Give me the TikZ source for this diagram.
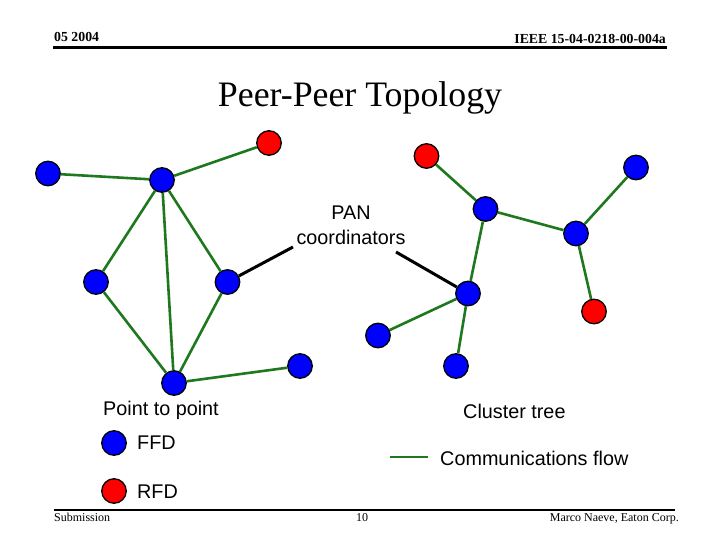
\documentclass[tikz,border=0pt]{standalone}
\usepackage{fontspec}
\setmainfont{Liberation Serif}
\newfontfamily\arialf{Liberation Sans}
\definecolor{edgegreen}{RGB}{30,120,30}
\begin{document}
\begin{tikzpicture}[x=1pt,y=-1pt,
  dev/.style={circle,draw=black,line width=1.3pt,minimum size=24.5pt,inner sep=0pt},
  ffd/.style={dev,fill={rgb,255:red,0;green,0;blue,255}},
  rfd/.style={dev,fill={rgb,255:red,255;green,0;blue,0}},
  flow/.style={draw=edgegreen,line width=2.6pt},
  pointer/.style={draw=black,line width=3pt},
  lbl/.style={font=\arialf\fontsize{19.8}{22}\selectfont,inner sep=0pt},
  hdr/.style={font=\bfseries\fontsize{13.8}{15}\selectfont,inner sep=0pt},
  ftr/.style={font=\fontsize{12}{14}\selectfont,inner sep=0pt}]
\useasboundingbox (0,0) rectangle (720,540);
% header / footer
\node[hdr,anchor=base west] (hl) at (54,42) {05 2004};
\node[hdr,anchor=base east] (hr) at (666,44) {IEEE 15-04-0218-00-004a};
\draw[line width=2.2pt] (53,47.5) -- (667,47.5);
\draw[line width=2.2pt] (54,510) -- (675,510);
\node[ftr,anchor=base west] (fl) at (54,521) {Submission};
\node[ftr,anchor=base] (fc) at (362,521) {10};
\node[ftr,anchor=base east] (fr) at (679,521) {Marco Naeve, Eaton Corp.};
% title
\node[inner sep=0pt,font=\fontsize{35.8}{40}\selectfont] (title) at (360,98) {Peer-Peer Topology};
% left graph
\node[ffd] (L1) at (48,173.5) {};
\node[ffd] (L2) at (162,180) {};
\node[rfd] (L3) at (269,143) {};
\node[ffd] (L4) at (96,282) {};
\node[ffd] (L5) at (227.5,282) {};
\node[ffd] (L6) at (174,383) {};
\node[ffd] (L7) at (300,366) {};
\path[flow] (L1) -- (L2);
\path[flow] (L2) -- (L3);
\path[flow] (L2) -- (L4);
\path[flow] (L2) -- (L5);
\path[flow] (L2) -- (L6);
\path[flow] (L4) -- (L6);
\path[flow] (L5) -- (L6);
\path[flow] (L6) -- (L7);
% right graph
\node[rfd] (R1) at (426.5,156) {};
\node[ffd] (R2) at (636,167.5) {};
\node[ffd] (R3) at (485.5,209) {};
\node[ffd] (R4) at (576,233.5) {};
\node[ffd] (R5) at (468,293.5) {};
\node[rfd] (R6) at (594,311.5) {};
\node[ffd] (R7) at (378,335.5) {};
\node[ffd] (R8) at (456,366) {};
\path[flow] (R1) -- (R3);
\path[flow] (R3) -- (R4);
\path[flow] (R4) -- (R2);
\path[flow] (R4) -- (R6);
\path[flow] (R3) -- (R5);
\path[flow] (R5) -- (R7);
\path[flow] (R5) -- (R8);
% PAN coordinators
\node[lbl] (pan) at (351,213) {PAN};
\node[lbl] (coord) at (351,237) {coordinators};
\coordinate (pl) at (293,247);
\coordinate (pr) at (396,252);
\path[pointer] (pl) -- (L5);
\path[pointer] (pr) -- (R5);
% labels
\node[lbl,anchor=west] (ptp) at (103,410) {Point to point};
\node[lbl,anchor=west] (ct) at (463,411) {Cluster tree};
% legend
\node[ffd] (kF) at (114,443) {};
\node[lbl,anchor=west] (kFt) at (137,443) {FFD};
\node[rfd] (kR) at (114,491) {};
\node[lbl,anchor=west] (kRt) at (137,492) {RFD};
\coordinate (kg1) at (390,457);
\coordinate (kg2) at (428,457);
\path[flow] (kg1) -- (kg2);
\node[lbl,anchor=west] (kgt) at (440,458) {Communications flow};
\end{tikzpicture}
\end{document}
